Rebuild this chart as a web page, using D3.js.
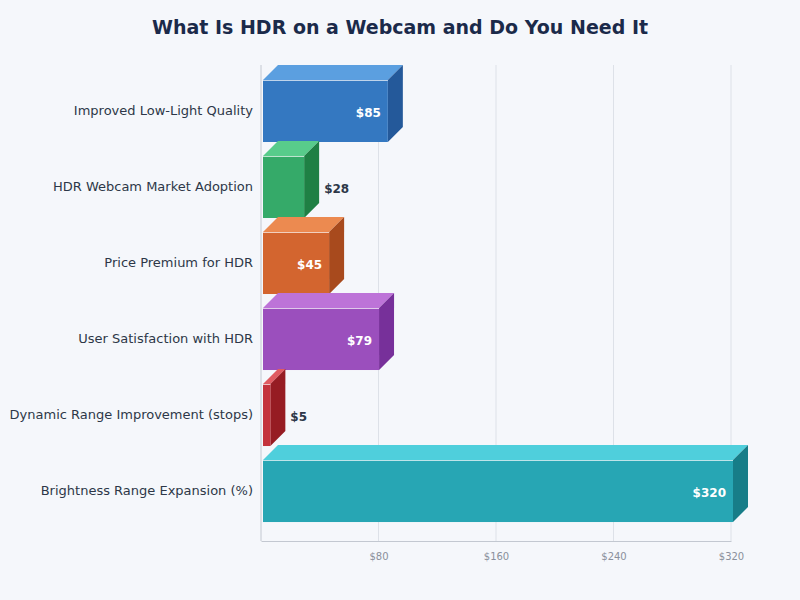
<!DOCTYPE html>
<html>
<head>
<meta charset="utf-8">
<script src="https://cdn.jsdelivr.net/npm/d3@7"></script>
<style>
  body { margin: 0; background: #f5f7fb; font-family: "DejaVu Sans", sans-serif; }
</style>
</head>
<body>
<div id="chart"></div>
<script>
var categories = ["Improved Low-Light Quality", "HDR Webcam Market Adoption", "Price Premium for HDR",
  "User Satisfaction with HDR", "Dynamic Range Improvement (stops)", "Brightness Range Expansion (%)"];
var values = [85, 28, 45, 79, 5, 320];
var tickValues = [80, 160, 240, 320];
var frontColors = ["#3478c1", "#35aa69", "#d3652f", "#9b4fbd", "#c4333c", "#27a6b4"];
var topColors = ["#5b9fe0", "#58cc8b", "#ec8a50", "#bd73d8", "#e05b61", "#4fcfdc"];
var sideColors = ["#24599a", "#1f8044", "#a84a1d", "#77309a", "#961c23", "#177d88"];

var margin = {top: 65, right: 69, bottom: 59, left: 261};
var width = 800 - margin.left - margin.right;
var height = 600 - margin.top - margin.bottom;
var depth = 15;

var svg = d3.select("#chart").append("svg")
    .attr("width", 800)
    .attr("height", 600)
    .style("background", "#f5f7fb");

svg.append("text").attr("x", 400).attr("y", 34)
    .attr("text-anchor", "middle")
    .style("font-size", "19px").style("font-weight", "bold")
    .style("fill", "#1b2a4a")
    .text("What Is HDR on a Webcam and Do You Need It");

var g = svg.append("g").attr("transform", "translate(" + margin.left + "," + margin.top + ")");

var xScale = d3.scaleLinear().domain([0, 320]).range([0, width]);
var yScale = d3.scaleBand().domain(categories).range([0, 472]).paddingInner(0.184).paddingOuter(0.197);

// grid
g.selectAll(".grid").data(tickValues).enter().append("line")
    .attr("x1", function(d){ return xScale(d); }).attr("x2", function(d){ return xScale(d); })
    .attr("y1", 0).attr("y2", height)
    .attr("stroke", "#dde1e8").attr("stroke-width", 1);

// axes
var xAxis = d3.axisBottom(xScale).tickValues(tickValues).tickSize(0).tickPadding(12)
    .tickFormat(function(d){ return "$" + d; });
var xg = g.append("g").attr("transform", "translate(0," + height + ")").call(xAxis);
xg.select(".domain").attr("stroke", "#c3c8d1");
xg.selectAll("text").style("font-size", "10px").style("fill", "#8a909c").style("font-family", "DejaVu Sans");

g.append("line").attr("x1", 0).attr("x2", 0).attr("y1", 0).attr("y2", height)
    .attr("stroke", "#c3c8d1");

var yAxis = d3.axisLeft(yScale).tickSize(0).tickPadding(8);
var yg = g.append("g").call(yAxis);
yg.select(".domain").remove();
yg.selectAll("text").style("font-size", "13px").style("fill", "#2d3748").style("font-family", "DejaVu Sans");

// 3D bars
var bars = g.selectAll(".bar").data(values).enter().append("g")
    .attr("transform", function(d, i){ return "translate(2," + yScale(categories[i]) + ")"; });

var bh = yScale.bandwidth();

bars.append("path")
    .attr("d", function(d){
      var w = xScale(d);
      return "M0,0 L" + depth + "," + (-depth) + " L" + (w + depth) + "," + (-depth) + " L" + w + ",0 Z";
    })
    .attr("fill", function(d, i){ return topColors[i]; });

bars.append("path")
    .attr("d", function(d){
      var w = xScale(d);
      return "M" + w + ",0 L" + (w + depth) + "," + (-depth) + " L" + (w + depth) + "," + (bh - depth) + " L" + w + "," + bh + " Z";
    })
    .attr("fill", function(d, i){ return sideColors[i]; });

bars.append("rect")
    .attr("x", 0).attr("y", 0)
    .attr("width", function(d){ return xScale(d); })
    .attr("height", bh)
    .attr("fill", function(d, i){ return frontColors[i]; });

bars.append("line")
    .attr("x1", 0).attr("x2", function(d){ return xScale(d); })
    .attr("y1", 0.5).attr("y2", 0.5)
    .attr("stroke", "#ffffff").attr("stroke-opacity", 0.7);

bars.append("text")
    .attr("x", function(d){ var w = xScale(d); return w > 50 ? w - 7 : w + depth + 5; })
    .attr("y", bh / 2 + 6)
    .attr("text-anchor", function(d){ return xScale(d) > 50 ? "end" : "start"; })
    .style("font-size", "12px").style("font-weight", "bold")
    .style("fill", function(d){ return xScale(d) > 50 ? "#ffffff" : "#2d3748"; })
    .text(function(d){ return "$" + d; });
</script>
</body>
</html>
